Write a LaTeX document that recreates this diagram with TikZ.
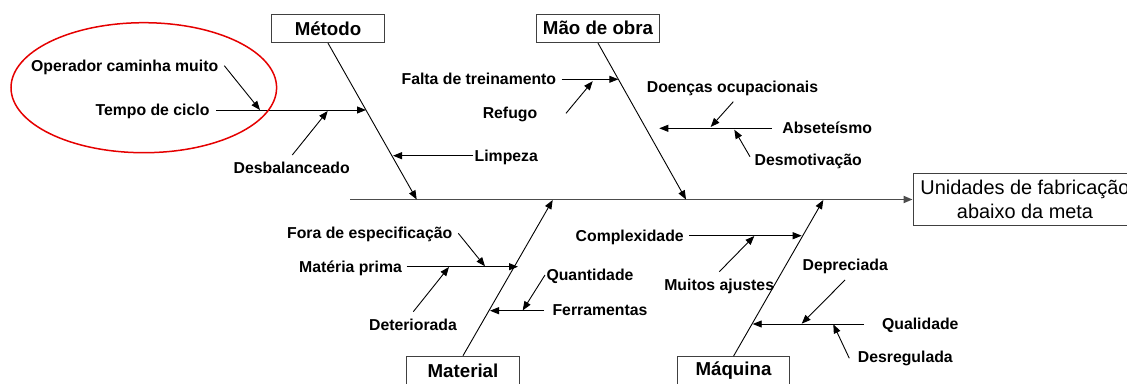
\documentclass[tikz,border=0pt]{standalone}
\usepackage{fontspec}
\setmainfont{Liberation Sans}
\usetikzlibrary{arrows.meta}

\begin{document}
\begin{tikzpicture}[x=1pt,y=-1pt,>={Triangle[length=9pt,width=7pt]},
            line width=0.9pt,
            cat box/.style={draw=black!75,font=\fontsize{18.7}{22}\selectfont\bfseries,
                minimum width=112.6pt,minimum height=28.7pt,inner xsep=6.5pt,inner ysep=0pt},
            effect box/.style={draw=black!75,font=\fontsize{19.9}{23.7}\selectfont,align=center,
                minimum width=224pt,minimum height=52.4pt,inner sep=0pt},
            cause/.style={font=\fontsize{15.8}{18}\selectfont\bfseries,inner sep=0pt,
                text height=11.5pt,text depth=3.3pt,yshift=-1.2pt},
            spine/.style={draw=black!70,line width=1.8pt}]

        \useasboundingbox (0,0) rectangle (1127,383);

        % Define categories
        \node[cat box] (metodo) at (328,28.3) {Método};
        \node[cat box] (maodeobra) at (598,28.3) {Mão de obra};
        \node[cat box] (material) at (463,370.5) {Material};
        \node[cat box] (maquina) at (733.5,371) {Máquina};
        \node[effect box] (efeito) at (1025,199.5) {Unidades de fabricação\\abaixo da meta};

        % Define causes
        \node[cause] (operador) at (124.7,65.7) {Operador caminha muito};
        \node[cause] (tempo) at (152.5,110) {Tempo de ciclo};
        \node[cause] (desbal) at (291.7,168.3) {Desbalanceado};
        \node[cause] (limpeza) at (506.3,155.7) {Limpeza};
        \node[cause] (falta) at (478.9,79.3) {Falta de treinamento};
        \node[cause] (refugo) at (510,113.3) {Refugo};
        \node[cause] (doencas) at (732.5,86.7) {Doenças ocupacionais};
        \node[cause] (absent) at (827.2,128) {Abseteísmo};
        \node[cause] (desmot) at (808.3,160) {Desmotivação};
        \node[cause] (foraesp) at (369.7,233.3) {Fora de especificação};
        \node[cause] (materia) at (350.5,266.7) {Matéria prima};
        \node[cause] (deterior) at (413,325) {Deteriorada};
        \node[cause] (quant) at (590,275) {Quantidade};
        \node[cause] (ferram) at (600,310) {Ferramentas};
        \node[cause] (complex) at (629.7,235.7) {Complexidade};
        \node[cause] (ajustes) at (719.2,285) {Muitos ajustes};
        \node[cause] (deprec) at (845.2,265) {Depreciada};
        \node[cause] (qualid) at (920.3,324) {Qualidade};
        \node[cause] (desreg) at (905.3,357) {Desregulada};

        % Define points
        \coordinate (inicio) at (350,199.5);
        \coordinate (m1) at (416.7,199.5);
        \coordinate (m2) at (686,199.5);
        \coordinate (m3) at (552.7,200);
        \coordinate (m4) at (823.3,200);
        \coordinate (tempo0) at (216,110);   \coordinate (tempo1) at (366,110);
        \coordinate (oper0) at (224.3,65.7); \coordinate (oper1) at (260,110);
        \coordinate (desb0) at (292.3,155);  \coordinate (desb1) at (327.7,111);
        \coordinate (limp0) at (473.3,155.7); \coordinate (limp1) at (393,155.7);
        \coordinate (falta0) at (561.7,79.3); \coordinate (falta1) at (618.3,79.3);
        \coordinate (ref0) at (566,113.3);   \coordinate (ref1) at (592.7,81.2);
        \coordinate (abs0) at (771.7,128.3); \coordinate (abs1) at (659.3,128.3);
        \coordinate (doe0) at (733.3,101.7); \coordinate (doe1) at (710.7,127);
        \coordinate (desm0) at (750,156.7);  \coordinate (desm1) at (734.3,129.7);
        \coordinate (mat0) at (406.7,266.7); \coordinate (mat1) at (518,266.7);
        \coordinate (fora0) at (458.3,233.3); \coordinate (fora1) at (485,266.3);
        \coordinate (det0) at (413.3,311.7); \coordinate (det1) at (449,267);
        \coordinate (fer0) at (544,310.7);   \coordinate (fer1) at (490,310.7);
        \coordinate (qua0) at (545,275);     \coordinate (qua1) at (522.7,310.4);
        \coordinate (comp0) at (689.3,235.7); \coordinate (comp1) at (801.7,235.7);
        \coordinate (aj0) at (719.3,271.7);  \coordinate (aj1) at (754.3,236);
        \coordinate (qual0) at (864,324);    \coordinate (qual1) at (752.7,324);
        \coordinate (dep0) at (845,280);     \coordinate (dep1) at (801.7,323.7);
        \coordinate (desr0) at (849.3,358.3); \coordinate (desr1) at (833.3,324.3);

        % Draw spine
        \draw[spine,->] (inicio) -- (efeito.west);

        % Draw edges
        \path[->]
            (metodo.south) edge (m1)
            (maodeobra.south) edge (m2)
            (material.north) edge (m3)
            (maquina.north) edge (m4)
            (tempo0) edge (tempo1)
            (oper0) edge (oper1)
            (desb0) edge (desb1)
            (limp0) edge (limp1)
            (falta0) edge (falta1)
            (ref0) edge (ref1)
            (abs0) edge (abs1)
            (doe0) edge (doe1)
            (desm0) edge (desm1)
            (mat0) edge (mat1)
            (fora0) edge (fora1)
            (det0) edge (det1)
            (fer0) edge (fer1)
            (qua0) edge (qua1)
            (comp0) edge (comp1)
            (aj0) edge (aj1)
            (qual0) edge (qual1)
            (dep0) edge (dep1)
            (desr0) edge (desr1);

        % Highlight
        \draw[red!90!black,line width=1.5pt] (143.8,87.7) ellipse [x radius=132.8,y radius=65];

        \end{tikzpicture}
\end{document}
